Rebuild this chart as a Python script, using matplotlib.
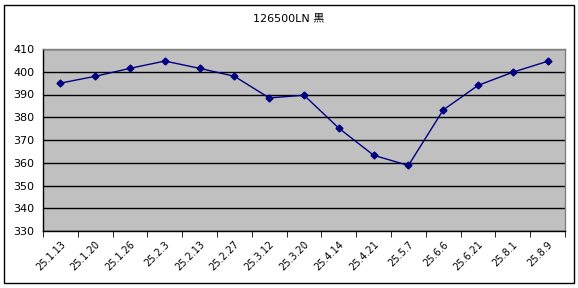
import numpy as np
import matplotlib.pyplot as plt
from matplotlib.patches import Rectangle

plt.rcParams['font.family'] = ['DejaVu Sans', 'Noto Sans CJK JP']

dates = ['25.1.13', '25.1.20', '25.1.26', '25.2.3', '25.2.13', '25.2.27', '25.3.12',
         '25.3.20', '25.4.14', '25.4.21', '25.5.7', '25.6.6', '25.6.21', '25.8.1', '25.8.9']
prices = [395, 398, 401.5, 404.7, 401.5, 398, 388.5, 389.7, 375.2, 363.3, 358.8,
          383.2, 394, 399.8, 404.6]
yticks = [330, 340, 350, 360, 370, 380, 390, 400, 410]

fig = plt.figure(figsize=(5.78, 2.88), dpi=100)
fig.patches.append(Rectangle((4 / 578, 5 / 288), 570 / 578, 278 / 288, transform=fig.transFigure,
                             fill=False, edgecolor='black', linewidth=1))

ax = fig.add_axes([43 / 578, 1 - 231 / 288, 522 / 578, 182 / 288])
ax.set_facecolor('#c0c0c0')
x = np.arange(len(dates))
ax.plot(x, prices, color='#000080', linewidth=1, marker='D', markersize=3.5)

ax.set_xlim(-0.5, len(dates) - 0.5)
ax.set_ylim(330, 410)
ax.set_yticks(yticks)
ax.set_yticklabels([str(v) for v in yticks], fontsize=8)
ax.yaxis.grid(True, color='black', linewidth=1)
ax.set_axisbelow(True)
ax.tick_params(axis='y', length=0, pad=6)

ax.set_xticks(x)
ax.set_xticklabels(dates, rotation=45, fontsize=7, ha='right', rotation_mode='anchor')
ax.tick_params(axis='x', which='major', length=0, pad=6)
ax.set_xticks(np.arange(len(dates) + 1) - 0.5, minor=True)
ax.tick_params(axis='x', which='minor', length=4, direction='out', color='black')

ax.spines['left'].set_color('black')
ax.spines['bottom'].set_color('black')
ax.spines['top'].set_color('#808080')
ax.spines['right'].set_color('#808080')
for s in ax.spines.values():
    s.set_linewidth(1)

fig.text(0.5, 1 - 18 / 288, '126500LN 黒', ha='center', va='center', fontsize=8)

fig.savefig('out.png', dpi=100)
